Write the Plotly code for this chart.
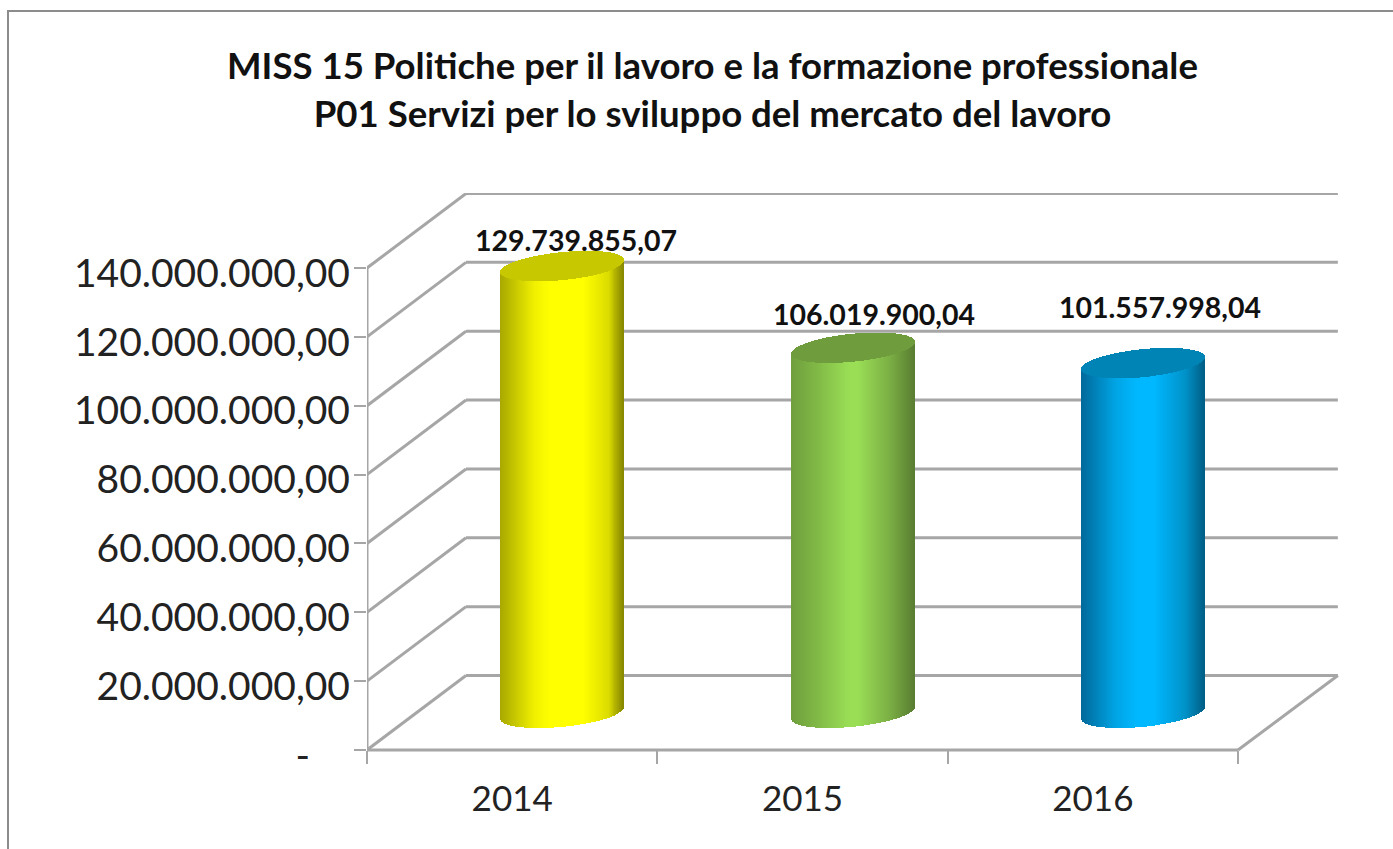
import numpy as np
import plotly.graph_objects as go

# ---- data ----
categories = ["2014", "2015", "2016"]
values = [129739855.07, 106019900.04, 101557998.04]
value_labels = ["129.739.855,07", "106.019.900,04", "101.557.998,04"]
y_ticks = [0, 20e6, 40e6, 60e6, 80e6, 100e6, 120e6, 140e6]
y_tick_labels = ["-\u00a0\u00a0\u00a0\u00a0", "20.000.000,00", "40.000.000,00", "60.000.000,00",
                 "80.000.000,00", "100.000.000,00", "120.000.000,00", "140.000.000,00"]
title_lines = ["MISS 15 Politiche per il lavoro e la formazione professionale",
               "P01 Servizi per lo sviluppo del mercato del lavoro"]

# ---- style ----
W, H = 1393, 849
FONT = "Lato"
PLOT_L, PLOT_R, PLOT_T, PLOT_B = 367, 1340, 193, 760
AXIS_Y = 750
PX_PER_CAT = 871 / 3
PX_PER_VAL = 482 / 140e6
GRID = "#a6a6a6"
GRID_W = 3
side_stops = [
    [(-1, "#a8a800"), (-0.45, "#f0f000"), (-0.2, "#ffff00"), (0.35, "#ffff00"), (0.75, "#dcdc00"), (1, "#888800")],
    [(-1, "#6f9f3e"), (-0.55, "#82bb47"), (-0.05, "#9ade56"), (0.1, "#9ade56"), (0.6, "#7cb045"), (1, "#5a7f32")],
    [(-1, "#00699a"), (-0.45, "#00a4e4"), (-0.1, "#00b8ff"), (0.2, "#00b8ff"), (0.7, "#0092c8"), (1, "#005f86")],
]
top_colors = ["#c8c800", "#6f9c3c", "#0084b6"]
label_shift = [(13, 26), (21, 34), (17, 56)]

# ---- derived geometry ----
x_min = 0.5
x_max = x_min + (PLOT_R - PLOT_L) / PX_PER_CAT
y_min = -(PLOT_B - AXIS_Y) / PX_PER_VAL
y_max = (AXIS_Y - PLOT_T) / PX_PER_VAL
depth_x = 99 / PX_PER_CAT
depth_y = 74.5 / PX_PER_VAL
radius = 61.5 / PX_PER_CAT
shear = 6 / PX_PER_VAL
semi = 14 / PX_PER_VAL
centers = [i + 1 + depth_x / 2 + 1 / PX_PER_CAT for i in range(len(categories))]
base_val = depth_y / 2


def hex_rgb(h):
    return np.array([int(h[i:i + 2], 16) for i in (1, 3, 5)], float)


def grad(t, stops):
    ts = [s[0] for s in stops]
    cs = [hex_rgb(s[1]) for s in stops]
    rgb = [np.interp(t, ts, [c[k] for c in cs]) for k in range(3)]
    return "rgb(%d,%d,%d)" % tuple(rgb)


fig = go.Figure()

n = 124
ts = (np.arange(n) + 0.5) / n * 2 - 1
for cx, v, stops, top in zip(centers, values, side_stops, top_colors):
    xs = cx + ts * radius
    arc = semi * np.sqrt(1 - ts ** 2)
    skew = shear * ts
    lower = base_val + skew - arc
    upper = base_val + v + skew - arc
    w = 1.5 / PX_PER_CAT
    fig.add_trace(go.Bar(x=xs, base=lower, y=upper - lower, width=w,
                         marker=dict(color=[grad(t, stops) for t in ts], line=dict(width=0)),
                         showlegend=False, hoverinfo="skip"))
    fig.add_trace(go.Bar(x=xs, base=upper, y=2 * arc, width=w,
                         marker=dict(color=top, line=dict(width=0)),
                         showlegend=False, hoverinfo="skip"))

# invisible trace that keeps the label axis alive
fig.add_trace(go.Scatter(x=[1], y=[0], yaxis="y2", mode="markers", marker=dict(opacity=0),
                         showlegend=False, hoverinfo="skip"))

# 3D walls, drawn beneath the bars
grid_line = dict(color=GRID, width=GRID_W)
shapes = []
x0 = x_min
x1 = x_min + len(categories)
for t in y_ticks:
    shapes.append(dict(type="line", xref="x", yref="y", layer="below", x0=x0, y0=t,
                       x1=x0 + depth_x, y1=t + depth_y, line=grid_line))
    shapes.append(dict(type="line", xref="x", yref="y", layer="below", x0=x0 + depth_x, y0=t + depth_y,
                       x1=x1 + depth_x + 0.003, y1=t + depth_y, line=grid_line))
shapes.append(dict(type="line", xref="x", yref="y", layer="below", x0=x1, y0=0,
                   x1=x1 + depth_x + 0.003, y1=depth_y, line=grid_line))
shapes.append(dict(type="line", xref="x", yref="y", layer="below", x0=x0, y0=0,
                   x1=x1, y1=0, line=grid_line))
shapes.append(dict(type="line", xref="x", yref="y", layer="below", x0=x0, y0=0,
                   x1=x0, y1=y_ticks[-1], line=grid_line))
# outer frame of the picture (left and top edges are the visible ones)
shapes.append(dict(type="rect", xref="paper", yref="paper", layer="below",
                   x0=(8 - PLOT_L) / (PLOT_R - PLOT_L), x1=(1410 - PLOT_L) / (PLOT_R - PLOT_L),
                   y0=(PLOT_B - 870) / (PLOT_B - PLOT_T), y1=(PLOT_B - 11) / (PLOT_B - PLOT_T),
                   line=dict(color="#8c8c8c", width=2), fillcolor="rgba(0,0,0,0)"))

annotations = []
for cx, v, lab, (dx, dy) in zip(centers, values, value_labels, label_shift):
    annotations.append(dict(x=cx, y=base_val + v, text="<b>%s</b>" % lab, showarrow=False,
                            xanchor="center", yanchor="middle", xshift=dx, yshift=dy,
                            font=dict(family=FONT, size=28.5, color="#111111")))

label_shift_px = 5
fig.update_layout(
    width=W, height=H,
    margin=dict(l=PLOT_L, r=W - PLOT_R, t=PLOT_T, b=H - PLOT_B, pad=0),
    paper_bgcolor="white", plot_bgcolor="white",
    barmode="overlay", bargap=0,
    showlegend=False,
    title=dict(text="<b>%s<br>%s</b>" % tuple(title_lines), x=712.5 / W, xanchor="center",
               y=1 - 79 / H, yanchor="middle",
               font=dict(family=FONT, size=36.6, color="#111111")),
    xaxis=dict(range=[x_min, x_max], tickmode="array", tickvals=[1, 2, 3], ticktext=categories,
               anchor="free", position=(PLOT_B - AXIS_Y) / (PLOT_B - PLOT_T),
               ticks="", showgrid=False, zeroline=False, showline=False,
               tickfont=dict(family=FONT, size=35, color="#222222"), ticklabelstandoff=25,
               minor=dict(tickmode="array", tickvals=[0.5, 1.5, 2.5, 3.5], ticks="outside", ticklen=13,
                          tickwidth=2, tickcolor=GRID, showgrid=False)),
    yaxis=dict(range=[y_min, y_max], tickmode="array", tickvals=y_ticks, ticks="outside", ticklen=12,
               tickwidth=2, tickcolor=GRID, showticklabels=False, showgrid=False, zeroline=False,
               showline=False),
    yaxis2=dict(overlaying="y", side="left", anchor="x",
                range=[y_min + label_shift_px / PX_PER_VAL, y_max + label_shift_px / PX_PER_VAL],
                tickmode="array", tickvals=y_ticks, ticktext=y_tick_labels, ticks="",
                showgrid=False, zeroline=False, showline=False, ticklabelstandoff=16,
                tickfont=dict(family=FONT, size=39, color="#222222")),
    shapes=shapes,
    annotations=annotations,
)

fig.write_html("out.html", config=dict(displayModeBar=False),
               post_script="document.body.style.margin='0';")
